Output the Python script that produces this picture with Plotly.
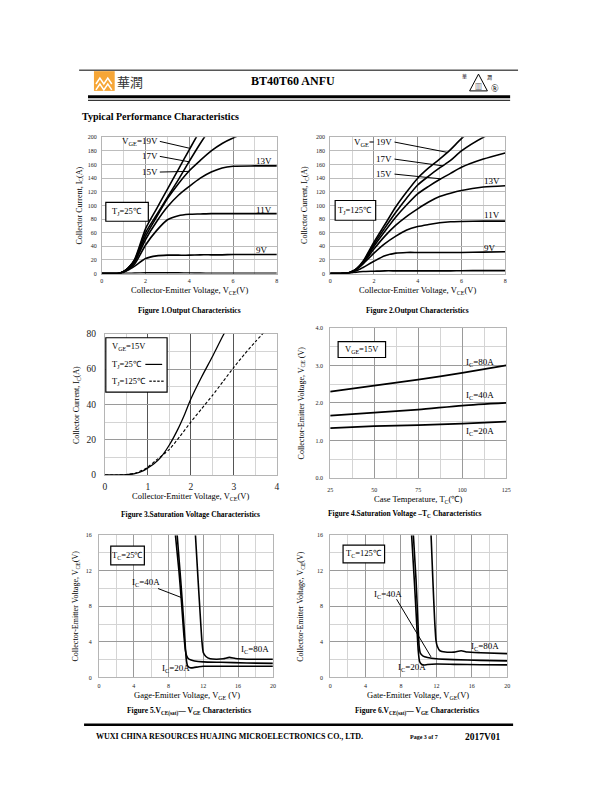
import plotly.graph_objects as go

W, H = 612, 792
SERIF = "Liberation Serif, Times New Roman, serif"
CJK = "Noto Sans CJK SC"

# ---------------- DATA ----------------
# Figure 1: output characteristics, Tj = 25C
f1_vce = [0, 0.5, 0.8, 1.0, 1.2, 1.5, 2.0, 2.5, 3.0, 3.5, 4.0, 4.5, 5.0, 5.5, 6.0, 7.0, 8.0]
f1_ic_7v = [0, 0, 0, 0.2, 0.4, 0.7, 1.0, 1.0, 1.0, 1.0, 0.8, 0.6, 0.5, 0.5, 0.5, 0.5, 0.5]
f1_ic_9v = [0, 0, 0.5, 2, 5, 11, 22, 26, 27, 27, 27, 27.5, 27.5, 27.5, 28, 28, 28]
f1_ic_11v = [0, 0, 0.5, 2.5, 6, 14, 42, 63, 79, 85, 87, 87.5, 88, 88, 88, 88, 88]
f1_ic_13v = [0, 0, 0.5, 3, 7, 17, 50, 76, 98, 115, 128, 140, 149, 155, 157.5, 158, 158]
f1_ic_15v = [0, 0, 0.5, 3, 8, 19, 55, 83, 110, 132, 151, 166, 180, 191, 199, 212, 220]
f1_ic_17v = [0, 0, 0.5, 3, 8, 20, 60, 86, 112, 138, 165, 191, 214, 230, 240, 250, 255]
f1_ic_19v = [0, 0, 0.5, 3, 8, 21, 66, 95, 124, 153, 182, 210, 232, 245, 252, 260, 265]

# Figure 2: output characteristics, Tj = 125C
f2_vce = [0, 0.5, 0.8, 1.0, 1.2, 1.5, 2.0, 2.5, 3.0, 3.5, 4.0, 4.5, 5.0, 5.5, 6.0, 7.0, 8.0]
f2_ic_7v = [0, 0, 0.3, 1, 2, 3, 3.5, 4, 4, 4, 4, 4, 4, 4, 4.2, 4.3, 4.3]
f2_ic_9v = [0, 0, 0.5, 2, 4, 9, 18, 26, 30, 31, 31, 31, 31, 31, 31, 31.5, 32]
f2_ic_11v = [0, 0.2, 0.8, 3, 6, 14, 30, 44, 55, 64, 69, 72, 74.5, 76, 76.5, 77, 77]
f2_ic_13v = [0, 0.2, 0.8, 3, 6.5, 15, 36, 55, 71, 84, 95, 105, 113, 118, 122, 127, 129]
f2_ic_15v = [0, 0.2, 0.8, 3, 7, 16, 40, 62, 83, 101, 117, 128, 138, 147, 156, 168, 177]
f2_ic_17v = [0, 0.2, 0.8, 3, 7, 17, 43, 67, 90, 111, 130, 143, 155, 166, 180, 200, 215]
f2_ic_19v = [0, 0.2, 0.8, 3, 7, 18, 46, 72, 98, 120, 140, 155, 168, 182, 198, 225, 240]

# Figure 3: saturation voltage characteristics, VGE = 15V
f3_vce_25 = [0, 0.3, 0.5, 0.7, 0.9, 1.0, 1.15, 1.3, 1.5, 1.7, 1.85, 2.0, 2.25, 2.5, 2.75, 3.0]
f3_ic_25 = [0, 0, 0.2, 0.8, 2.5, 4, 6.5, 10, 17, 26, 34, 43, 55.5, 67, 79, 90]
f3_vce_125 = [0, 0.3, 0.5, 0.7, 0.9, 1.0, 1.2, 1.5, 1.75, 2.0, 2.25, 2.5, 2.75, 3.0, 3.25, 3.5, 3.75]
f3_ic_125 = [0, 0, 0.3, 1, 3, 4.5, 8.5, 14.5, 22, 30, 37.5, 45, 53, 61, 68.5, 75.5, 82]

# Figure 4: VCE(sat) vs case temperature
f4_tc = [25, 50, 75, 100, 125]
f4_v_80a = [2.30, 2.46, 2.62, 2.80, 3.00]
f4_v_40a = [1.66, 1.74, 1.82, 1.93, 2.00]
f4_v_20a = [1.33, 1.38, 1.41, 1.45, 1.50]

# Figure 5: VCE(sat) vs VGE, Tc = 25C
f5_vge_20a = [9.0, 9.4, 9.7, 9.9, 10.05, 10.2, 10.5, 10.9, 11.5, 12, 14, 17, 20]
f5_vce_20a = [16, 11, 7, 4, 2.0, 1.3, 1.08, 1.1, 1.2, 1.25, 1.25, 1.25, 1.25]
f5_vge_40a = [8.8, 9.2, 9.5, 9.75, 9.95, 10.1, 10.3, 10.6, 11, 12, 14, 17, 20]
f5_vce_40a = [16, 12, 8.4, 5, 3, 2.4, 2.1, 1.95, 1.85, 1.75, 1.7, 1.62, 1.58]
f5_vge_80a = [11.1, 11.4, 11.65, 11.85, 12.0, 12.3, 12.8, 13.5, 14.3, 15.0, 15.7, 17, 20]
f5_vce_80a = [16, 11, 7, 4, 2.8, 2.35, 2.1, 2.05, 2.1, 2.25, 2.12, 2.05, 2.05]

# Figure 6: VCE(sat) vs VGE, Tc = 125C
f6_vge_20a = [9.2, 9.5, 9.75, 9.95, 10.1, 10.3, 10.6, 11, 12, 14, 17, 20]
f6_vce_20a = [16, 11, 6.5, 3, 1.8, 1.5, 1.4, 1.45, 1.5, 1.47, 1.43, 1.41]
f6_vge_40a = [9.4, 9.7, 9.9, 10.05, 10.2, 10.5, 11, 12, 14, 17, 20]
f6_vce_40a = [16, 11, 6.5, 3.5, 2.7, 2.4, 2.25, 2.1, 2.0, 1.92, 1.86]
f6_vge_80a = [11.4, 11.6, 11.8, 11.95, 12.1, 12.4, 13, 14, 14.8, 15.5, 17, 20]
f6_vce_80a = [16, 11, 6.5, 4.2, 3.5, 3.0, 2.85, 2.85, 3.0, 2.85, 2.78, 2.68]

# ---------------- FIGURE ----------------
fig = go.Figure()


def px(x):
    return x / W


def py(y):
    return 1 - y / H


def add_line(idx, x, y, dash="solid", width=1.6, smooth=0.7):
    fig.add_trace(go.Scatter(
        x=x, y=y, mode="lines", xaxis="x" + ("" if idx == 1 else str(idx)),
        yaxis="y" + ("" if idx == 1 else str(idx)),
        line=dict(color="black", width=width, dash=dash, shape="spline", smoothing=smooth),
        showlegend=False, hoverinfo="skip"))


for ic in [f1_ic_7v, f1_ic_9v, f1_ic_11v, f1_ic_13v, f1_ic_15v, f1_ic_17v, f1_ic_19v]:
    add_line(1, f1_vce, ic)
for ic in [f2_ic_7v, f2_ic_9v, f2_ic_11v, f2_ic_13v, f2_ic_15v, f2_ic_17v, f2_ic_19v]:
    add_line(2, f2_vce, ic)
add_line(3, f3_vce_25, f3_ic_25, width=1.3)
add_line(3, f3_vce_125, f3_ic_125, dash="3px,2px", width=1.1)
for v in [f4_v_80a, f4_v_40a, f4_v_20a]:
    add_line(4, f4_tc, v, width=1.8)
add_line(5, f5_vge_20a, f5_vce_20a, smooth=0.5)
add_line(5, f5_vge_40a, f5_vce_40a, smooth=0.5)
add_line(5, f5_vge_80a, f5_vce_80a, smooth=0.5)
add_line(6, f6_vge_20a, f6_vce_20a, smooth=0.5)
add_line(6, f6_vge_40a, f6_vce_40a, smooth=0.5)
add_line(6, f6_vge_80a, f6_vce_80a, smooth=0.5)

MINOR = "#d4d4d4"


def axis_pair(idx, xdom, ydom, xr, yr, xmaj, xmin, ymaj, ymin, xgrid, ygrid,
              tick_size=6, yfmt=None, xgw=1, ygw=1, xso=4, yso=3):
    xs = "xaxis" + ("" if idx == 1 else str(idx))
    ys = "yaxis" + ("" if idx == 1 else str(idx))
    xa = "x" + ("" if idx == 1 else str(idx))
    ya = "y" + ("" if idx == 1 else str(idx))
    tf = dict(family=SERIF, size=tick_size, color="#222")
    xd = dict(domain=[px(xdom[0]), px(xdom[1])], anchor=ya, range=xr, dtick=xmaj, tick0=xr[0],
              showgrid=True, gridcolor=xgrid, gridwidth=xgw, zeroline=False,
              showline=True, linecolor="#b5b5b5", mirror=True, ticks="", tickfont=tf,
              ticklabelstandoff=xso,
              minor=dict(dtick=xmin, tick0=xr[0], showgrid=True, gridcolor=MINOR, gridwidth=1),
              fixedrange=True, layer="below traces")
    yd = dict(domain=[py(ydom[1]), py(ydom[0])], anchor=xa, range=yr, dtick=ymaj, tick0=yr[0],
              showgrid=True, gridcolor=ygrid, gridwidth=ygw, zeroline=False,
              showline=True, linecolor="#b5b5b5", mirror=True, ticks="", tickfont=tf,
              ticklabelstandoff=yso,
              minor=dict(dtick=ymin, tick0=yr[0], showgrid=True, gridcolor=MINOR, gridwidth=1),
              fixedrange=True, layer="below traces")
    if yfmt:
        yd["tickformat"] = yfmt
    return {xs: xd, ys: yd}


layout = {}
layout.update(axis_pair(1, (100, 277), (134, 272), [0, 8], [0, 200], 2, 1, 20, 20, "#8f8f8f", "#bdbdbd",
                        xso=1))
layout.update(axis_pair(2, (331, 508), (134, 272), [0, 8], [0, 200], 2, 1, 20, 20, "#8f8f8f", "#bdbdbd",
                        xso=1))
layout.update(axis_pair(3, (103, 277), (333, 476), [0, 4], [0, 80], 1, 0.5, 20, 10, "#555555", "#9a9a9a",
                        tick_size=9.5, xgw=1.4, xso=3, yso=6))
layout.update(axis_pair(4, (331, 509), (327, 479), [25, 125], [0, 4], 25, 12.5, 1, 0.5, "#9a9a9a", "#9a9a9a",
                        yfmt=".1f", xso=6, yso=5))
layout.update(axis_pair(5, (97, 273), (537, 681), [0, 20], [0, 16], 4, 2, 4, 2, "#9a9a9a", "#9a9a9a",
                        xso=2, yso=5))
layout.update(axis_pair(6, (331, 510), (537, 681), [0, 20], [0, 16], 4, 2, 4, 2, "#9a9a9a", "#9a9a9a",
                        xso=2, yso=5))

annotations = []
shapes = []


def txt(text, x, y, size=8.5, xanchor="center", yanchor="middle", bold=False, xref="paper",
        yref="paper", angle=0, family=SERIF, color="black"):
    if xref == "paper":
        x = px(x)
    if yref == "paper":
        y = py(y)
    annotations.append(dict(text=("<b>%s</b>" % text) if bold else text, x=x, y=y, xref=xref, yref=yref,
                            xanchor=xanchor, yanchor=yanchor, showarrow=False, textangle=angle,
                            font=dict(family=family, size=size, color=color)))


def pline(x0, y0, x1, y1, width=1, color="black"):
    shapes.append(dict(type="line", xref="paper", yref="paper", x0=px(x0), y0=py(y0), x1=px(x1), y1=py(y1),
                       line=dict(color=color, width=width)))


def prect(x0, y0, x1, y1, width=1.2, fill="white"):
    shapes.append(dict(type="rect", xref="paper", yref="paper", x0=px(x0), y0=py(y0), x1=px(x1), y1=py(y1),
                       line=dict(color="black", width=width), fillcolor=fill, layer="above"))


def dline(i, x0, y0, x1, y1, width=1):
    xa = "x" + ("" if i == 1 else str(i))
    ya = "y" + ("" if i == 1 else str(i))
    shapes.append(dict(type="line", xref=xa, yref=ya, x0=x0, y0=y0, x1=x1, y1=y1,
                       line=dict(color="black", width=width)))


def dtxt(i, text, x, y, size=9, xanchor="center"):
    xa = "x" + ("" if i == 1 else str(i))
    ya = "y" + ("" if i == 1 else str(i))
    annotations.append(dict(text=text, x=x, y=y, xref=xa, yref=ya, xanchor=xanchor, yanchor="middle",
                            showarrow=False, font=dict(family=SERIF, size=size, color="black")))


# ---- header ----
pline(77, 66, 521, 66, 1)
pline(86, 93, 513, 93, 3)
pline(86, 96.5, 513, 96.5, 1)
shapes.append(dict(type="rect", xref="paper", yref="paper", x0=px(92), y0=py(87), x1=px(113), y1=py(67),
                   line=dict(width=0), fillcolor="#F6A637"))


def ppath(points):
    return "M " + " L ".join("%f,%f" % (px(a), py(b)) for a, b in points)


shapes.append(dict(type="path", xref="paper", yref="paper",
                   path=ppath([(94, 80), (98, 74), (102, 80), (106, 74), (110, 80)]),
                   line=dict(color="white", width=1.5)))
shapes.append(dict(type="path", xref="paper", yref="paper",
                   path=ppath([(94, 86), (98, 80), (102, 86), (106, 80), (110, 86)]),
                   line=dict(color="white", width=1.5)))
txt("華潤", 128, 77, size=13, family=CJK, color="#333")
txt("BT40T60 ANFU", 293, 77, size=12, bold=True)
shapes.append(dict(type="path", xref="paper", yref="paper",
                   path=ppath([(472, 87), (481, 70), (490, 87)]) + " Z",
                   line=dict(color="black", width=1)))
txt("華", 467, 72, size=5, family=CJK)
txt("潤", 492, 73, size=5, family=CJK)
txt("▥", 481, 82, size=7, family=CJK)
txt("®", 498, 85, size=10)
txt("Typical Performance Characteristics", 78, 113, size=10, bold=True, xanchor="left")

# ---- Figure 1 ----
txt("Collector Current, I<sub>C</sub>(A)", 78, 203, size=8, angle=-90)
txt("Collector-Emitter Voltage, V<sub>CE</sub>(V)", 189, 289, size=8.5)
txt("Figure 1.Output Characteristics", 189, 309, size=7.5, bold=True)
dtxt(1, "V<sub>GE</sub>=19V", 2.64, 194, xanchor="right")
dtxt(1, "17V", 2.64, 172, xanchor="right")
dtxt(1, "15V", 2.64, 149, xanchor="right")
dline(1, 2.65, 194, 4.0, 184)
dline(1, 2.65, 172, 4.0, 164)
dline(1, 2.65, 149, 4.0, 150)
dtxt(1, "13V", 7.4, 165)
dtxt(1, "11V", 7.4, 94)
dtxt(1, "9V", 7.3, 35)
prect(104, 200, 147, 219)
txt("T<sub>J</sub>=25℃", 125.5, 209.5, size=8.5)

# ---- Figure 2 ----
txt("Collector Current, I<sub>C</sub>(A)", 306, 203, size=8, angle=-90)
txt("Collector-Emitter Voltage, V<sub>CE</sub>(V)", 419, 289, size=8.5)
txt("Figure 2.Output Characteristics", 419, 309, size=7.5, bold=True)
dtxt(2, "V<sub>GE</sub>= 19V", 2.92, 193, xanchor="right")
dtxt(2, "17V", 2.92, 168, xanchor="right")
dtxt(2, "15V", 2.92, 146, xanchor="right")
dline(2, 2.94, 193, 5.34, 178)
dline(2, 2.94, 168, 5.16, 158)
dline(2, 2.94, 146, 5.07, 139)
dtxt(2, "13V", 7.4, 136)
dtxt(2, "11V", 7.4, 86)
dtxt(2, "9V", 7.3, 38)
prect(336, 198, 377, 218)
txt("T<sub>J</sub>=125℃", 356.5, 208, size=8.5)

# ---- Figure 3 ----
txt("Collector Current, I<sub>C</sub>(A)", 75, 405, size=8, angle=-90)
txt("Collector-Emitter Voltage, V<sub>CE</sub>(V)", 190, 498, size=8.5)
txt("Figure 3.Saturation Voltage Characteristics", 190, 516, size=7.5, bold=True)
prect(104, 337, 166, 392)
txt("V<sub>GE</sub>=15V", 108, 346, size=8.5, xanchor="left")
txt("T<sub>J</sub>=25℃", 108, 364, size=8.5, xanchor="left")
txt("T<sub>J</sub>=125℃", 108, 381, size=8.5, xanchor="left")
pline(144, 364, 161, 364, 1.2)
for k in range(4):
    pline(148 + 4 * k, 381, 150.5 + 4 * k, 381, 1.2)

# ---- Figure 4 ----
txt("Collector-Emitter Voltage, V<sub>CE</sub> (V)", 302, 403, size=8, angle=-90)
txt("Case Temperature, T<sub>C</sub>(℃)", 420, 501, size=8.5)
txt("Figure 4.Saturation Voltage –T<sub>C</sub> Characteristics", 407, 516, size=7.5, bold=True)
prect(339, 341, 387, 357)
txt("V<sub>GE</sub>=15V", 363, 349, size=8.5)
dtxt(4, "I<sub>C</sub>=80A", 101.2, 3.08, xanchor="left")
dtxt(4, "I<sub>C</sub>=40A", 101.2, 2.21, xanchor="left")
dtxt(4, "I<sub>C</sub>=20A", 101.2, 1.24, xanchor="left")

# ---- Figure 5 ----
txt("Collector-Emitter Voltage, V<sub>CE</sub>(V)", 74, 609, size=8, angle=-90)
txt("Gage-Emitter Voltage, V<sub>GE</sub> (V)", 186, 699, size=8.5)
txt("Figure 5.V<sub>CE(sat)</sub>— V<sub>GE</sub> Characteristics", 188, 716, size=7.5, bold=True)
prect(109, 548, 143, 567)
txt("T<sub>C</sub>=25℃", 126, 557.5, size=8.5)
dtxt(5, "I<sub>C</sub>=40A", 5.45, 10.7)
dline(5, 6.8, 10.0, 9.45, 9.0)
dtxt(5, "I<sub>C</sub>=80A", 17.95, 3.1)
dtxt(5, "I<sub>C</sub>=20A", 8.9, 1.0)

# ---- Figure 6 ----
txt("Collector-Emitter Voltage, V<sub>CE</sub>(V)", 302, 609, size=8, angle=-90)
txt("Gate-Emitter Voltage, V<sub>GE</sub>(V)", 420, 699, size=8.5)
txt("Figure 6.V<sub>CE(sat)</sub>— V<sub>GE</sub> Characteristics", 419, 716, size=7.5, bold=True)
prect(344, 547, 386, 565)
txt("T<sub>C</sub>=125℃", 365, 556, size=8.5)
dtxt(6, "I<sub>C</sub>=40A", 6.5, 9.3)
dline(6, 7.5, 8.8, 11.4, 2.3)
dtxt(6, "I<sub>C</sub>=80A", 17.5, 3.44)
dtxt(6, "I<sub>C</sub>=20A", 9.3, 1.1)

# ---- footer ----
pline(82, 729, 516, 729, 2.5)
txt("WUXI CHINA RESOURCES HUAJING MICROELECTRONICS CO., LTD.", 92, 741, size=8, bold=True,
    xanchor="left")
txt("Page 3 of 7", 410, 741, size=6, bold=True, xanchor="left")
txt("2017V01", 465, 741, size=9.5, bold=True, xanchor="left")

layout.update(dict(width=W, height=H, margin=dict(l=0, r=0, t=0, b=0), paper_bgcolor="white",
                   plot_bgcolor="white", showlegend=False, annotations=annotations, shapes=shapes))
fig.update_layout(**layout)
fig.write_html("out.html", config={"displayModeBar": False},
               post_script="document.body.style.margin='0';document.body.style.padding='0';")
